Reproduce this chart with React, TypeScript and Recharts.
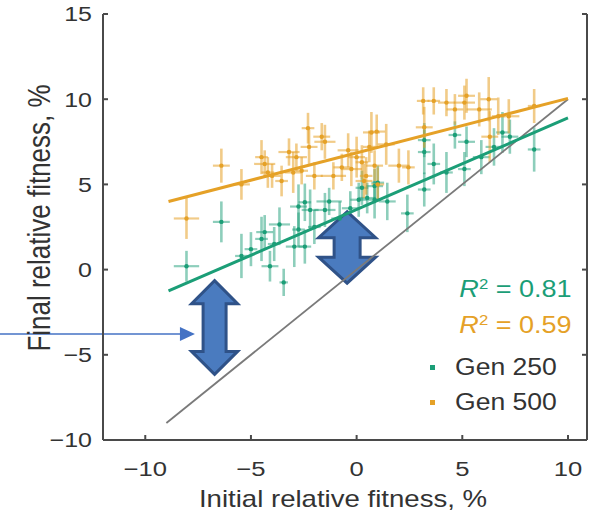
import React from 'react';
import { ComposedChart, Scatter, XAxis, YAxis, ErrorBar, ReferenceLine, Legend } from 'recharts';

const FONT = '"Liberation Sans", Arial, Helvetica, sans-serif';
const GREEN = '#1b9e77';
const ORANGE = '#e5a127';
const GREEN_BAR = 'rgba(27, 158, 119, 0.5)';
const ORANGE_BAR = 'rgba(229, 161, 39, 0.55)';
const AXIS = '#4a4a4a';
const TEXT = '#333333';

const xTicks = [-10, -5, 0, 5, 10];
const yTicks = [-10, -5, 0, 5, 10, 15];

// Gen 250 lines
const gen250X = [-8.05, -6.4, -5.45, -5.0, -4.5, -4.35, -4.1, -3.9, -3.65, -3.45, -2.95, -2.75, -2.75, -2.45, -2.45, -2.2, -2.0, -1.5, -1.3, -0.8, -0.3, 0.1, 0.25, 0.5, 0.85, 0.85, 1.0, 1.45, 2.4, 3.2, 3.2, 3.2, 3.65, 4.25, 4.65, 5.1, 5.2, 5.9, 6.5, 6.9, 7.25, 8.4];
const gen250Y = [0.2, 2.8, 0.8, 1.2, 1.8, 2.2, 0.2, 1.5, 2.65, -0.75, 1.35, 3.7, 2.35, 3.95, 1.35, 3.5, 2.5, 3.5, 4.0, 3.0, 3.6, 4.1, 4.8, 4.2, 4.1, 4.9, 5.1, 4.0, 3.3, 4.7, 6.9, 7.6, 6.2, 5.7, 7.9, 5.9, 7.5, 6.6, 7.2, 8.05, 7.8, 7.05];
const gen250XErr = [0.6, 0.4, 0.3, 0.3, 0.3, 0.4, 0.4, 0.3, 0.5, 0.2, 0.4, 0.4, 0.3, 0.3, 0.3, 0.4, 0.3, 0.5, 0.6, 0.4, 0.4, 0.4, 0.3, 0.4, 0.3, 0.4, 0.3, 0.4, 0.3, 0.3, 0.3, 0.3, 0.3, 0.3, 0.3, 0.3, 0.4, 0.4, 0.4, 0.3, 0.4, 0.3];
const gen250YErr = [0.9, 1.2, 1.3, 1.0, 1.3, 1.0, 0.9, 1.0, 1.0, 0.8, 1.2, 1.3, 1.0, 1.1, 1.0, 1.2, 1.0, 1.0, 0.8, 1.0, 1.0, 1.0, 1.0, 0.9, 1.1, 1.0, 1.0, 1.1, 1.1, 1.0, 1.3, 1.0, 1.2, 1.2, 0.8, 1.0, 0.9, 1.0, 1.1, 1.2, 1.0, 1.3];

// Gen 500 lines
const gen500X = [-8.05, -6.4, -5.45, -4.5, -4.35, -4.2, -4.0, -3.55, -3.2, -3.0, -2.85, -2.6, -2.3, -2.25, -2.0, -1.65, -1.5, -1.1, -0.7, -0.4, -0.25, 0.0, 0.25, 0.35, 0.45, 0.6, 0.7, 0.85, 0.95, 1.0, 1.4, 2.0, 2.45, 3.15, 3.2, 3.65, 4.25, 4.65, 5.1, 5.2, 5.8, 6.25, 6.3, 6.7, 7.2, 8.4];
const gen500Y = [3.0, 6.1, 5.0, 6.6, 6.2, 5.7, 5.5, 5.2, 6.9, 5.7, 6.6, 5.8, 8.3, 7.2, 5.5, 7.8, 7.5, 5.5, 6.0, 7.0, 5.9, 6.6, 6.3, 5.2, 5.5, 7.2, 8.05, 6.1, 8.1, 5.0, 7.35, 6.1, 6.0, 9.9, 8.35, 9.9, 9.8, 9.4, 9.8, 10.2, 9.4, 10.0, 7.8, 9.0, 9.0, 9.6];
const gen500XErr = [0.6, 0.4, 0.4, 0.3, 0.5, 0.3, 0.4, 0.3, 0.5, 0.4, 0.5, 0.3, 0.3, 0.4, 0.4, 0.4, 0.5, 0.6, 0.4, 0.5, 0.5, 0.4, 0.3, 0.4, 0.3, 0.3, 0.4, 0.4, 0.4, 0.3, 0.4, 0.5, 0.3, 0.3, 0.4, 0.3, 0.4, 0.4, 0.5, 0.4, 0.6, 0.4, 0.4, 0.3, 0.5, 0.3];
const gen500YErr = [1.2, 1.0, 0.9, 1.0, 0.8, 0.9, 0.7, 0.9, 0.8, 1.2, 0.8, 0.8, 0.9, 1.0, 0.8, 0.8, 1.0, 0.8, 0.8, 1.0, 1.0, 1.2, 1.0, 1.0, 1.1, 0.9, 1.2, 0.9, 1.0, 1.0, 1.2, 1.0, 1.0, 0.8, 1.2, 0.8, 0.8, 0.9, 1.0, 1.0, 1.0, 1.3, 1.5, 1.1, 1.0, 1.0];

// regression fits and the y = x line
const fit250X = [-8.9, 10];
const fit250Y = [-1.25, 8.9];
const fit500X = [-8.9, 10];
const fit500Y = [4.0, 10.05];
const identityX = [-9, 10];
const identityY = [-9, 10];

// annotation arrows, in data units
const arrowX = [-6.72, -0.45];
const arrowTop = [-0.65, 3.4];
const arrowBottom = [-6.15, -0.8];
const arrowLineY = -3.78;
const arrowLineFrom = -16.9;
const arrowLineTo = -7.65;

const arrowSize = [
  { w: 46, h: 23, s: 23 },
  { w: 57, h: 26, s: 26 },
];

const toPoints = (xs: number[], ys: number[]) => xs.map((x, i) => ({ x, y: ys[i] }));

const gen250 = gen250X.map((x, i) => ({ x, y: gen250Y[i], ex: gen250XErr[i], ey: gen250YErr[i] }));
const gen500 = gen500X.map((x, i) => ({ x, y: gen500Y[i], ex: gen500XErr[i], ey: gen500YErr[i] }));
const fit250 = toPoints(fit250X, fit250Y);
const fit500 = toPoints(fit500X, fit500Y);
const identity = toPoints(identityX, identityY);

const fmt = (v: number) => String(v).replace('-', '\u2212');

const YTick = ({ x, y, payload }: any) => (
  <text
    transform={`translate(${x},${y}) scale(1.22,1)`}
    textAnchor="end"
    dy="0.36em"
    fontSize={20.5}
    fontFamily={FONT}
    fill={TEXT}
  >
    {fmt(payload.value)}
  </text>
);

const XTick = ({ x, y, payload }: any) => (
  <text
    transform={`translate(${x},${y}) scale(1.25,1)`}
    textAnchor="middle"
    dy="0.71em"
    fontSize={20.5}
    fontFamily={FONT}
    fill={TEXT}
  >
    {fmt(payload.value)}
  </text>
);

const XTitle = ({ viewBox }: any) => {
  const cx = viewBox.x + viewBox.width / 2 - 2;
  const by = viewBox.y + viewBox.height - 7;
  return (
    <text transform={`translate(${cx},${by}) scale(1.2,1)`} textAnchor="middle" fontSize={23} fontFamily={FONT} fill={TEXT}>
      Initial relative fitness, %
    </text>
  );
};

const YTitle = ({ viewBox }: any) => {
  const cy = viewBox.y + viewBox.height / 2 - 9;
  return (
    <text transform={`translate(39,${cy}) scale(1.2,1) rotate(-90)`} textAnchor="middle" dy="0.36em" fontSize={26} fontFamily={FONT} fill={TEXT}>
      Final relative fitness, %
    </text>
  );
};

const DoubleArrow = ({ x1, y1, x2, y2, w, h, s }: any) => {
  const cx = (x1 + x2) / 2;
  const top = Math.min(y1, y2);
  const bot = Math.max(y1, y2);
  const pts = [
    [cx, top], [cx + w / 2, top + h], [cx + s / 2, top + h], [cx + s / 2, bot - h], [cx + w / 2, bot - h],
    [cx, bot], [cx - w / 2, bot - h], [cx - s / 2, bot - h], [cx - s / 2, top + h], [cx - w / 2, top + h],
  ];
  return <polygon points={pts.map((p) => p.join(',')).join(' ')} fill="#4a7bbf" stroke="#2f5288" strokeWidth={3} />;
};

const ThinArrow = ({ x1, y1, x2, y2 }: any) => (
  <g>
    <line x1={x1} y1={y1} x2={x2 - 12} y2={y2} stroke="#4472c4" strokeWidth={1.5} />
    <polygon points={`${x2},${y2} ${x2 - 15},${y2 - 7} ${x2 - 15},${y2 + 7}`} fill="#4472c4" />
  </g>
);

const Key = () => {
  const row = { position: 'absolute' as const, height: 36, lineHeight: '36px', whiteSpace: 'nowrap' as const };
  const sup = { fontSize: '0.62em', position: 'relative' as const, top: '-0.55em' };
  return (
    <div style={{ position: 'relative', width: 172, height: 150, fontFamily: FONT, fontSize: 23.5, color: TEXT }}>
      <div style={{ ...row, right: 0, top: 0, color: GREEN, transform: 'scaleX(1.15)', transformOrigin: 'right center' }}>
        <i>R</i><span style={sup}>2</span> = 0.81
      </div>
      <div style={{ ...row, right: 0, top: 36, color: ORANGE, transform: 'scaleX(1.15)', transformOrigin: 'right center' }}>
        <i>R</i><span style={sup}>2</span> = 0.59
      </div>
      <div style={{ position: 'absolute', left: 30, top: 94, width: 5, height: 5, background: GREEN }} />
      <div style={{ ...row, left: 55, top: 78, transform: 'scaleX(1.13)', transformOrigin: 'left center' }}>Gen 250</div>
      <div style={{ position: 'absolute', left: 30, top: 129, width: 5, height: 5, background: ORANGE }} />
      <div style={{ ...row, left: 55, top: 113, transform: 'scaleX(1.13)', transformOrigin: 'left center' }}>Gen 500</div>
    </div>
  );
};

const dot = (color: string) => (props: any) => <circle cx={props.cx} cy={props.cy} r={2.2} fill={color} />;
const none = () => <g />;

export default function App() {
  return (
    <div style={{ position: 'absolute', left: 0, top: 0, width: 594, height: 514, background: '#fff' }}>
      <ComposedChart width={594} height={514} margin={{ top: 14, right: 6, bottom: 0, left: 0 }}>
        <XAxis
          type="number"
          dataKey="x"
          domain={[-12, 10.9]}
          ticks={xTicks}
          allowDataOverflow
          height={74}
          axisLine={{ stroke: AXIS, strokeWidth: 2 }}
          tickLine={{ stroke: AXIS, strokeWidth: 2 }}
          tickSize={-5}
          tickMargin={26}
          tick={<XTick />}
          label={{ value: 'Initial relative fitness, %', content: (p: any) => <XTitle {...p} /> }}
        />
        <YAxis
          type="number"
          dataKey="y"
          domain={[-10, 15]}
          ticks={yTicks}
          allowDataOverflow
          width={103}
          axisLine={{ stroke: AXIS, strokeWidth: 2 }}
          tickLine={{ stroke: AXIS, strokeWidth: 2 }}
          tickSize={-5}
          tickMargin={16}
          tick={<YTick />}
          label={{ value: 'Final relative fitness, %', content: (p: any) => <YTitle {...p} /> }}
        />
        <YAxis
          yAxisId="r"
          orientation="right"
          type="number"
          domain={[-10, 15]}
          ticks={yTicks}
          allowDataOverflow
          width={1}
          axisLine={{ stroke: AXIS, strokeWidth: 2 }}
          tickLine={{ stroke: AXIS, strokeWidth: 2 }}
          tickSize={-5}
          tick={none}
        />
        <Legend layout="vertical" align="center" verticalAlign="middle" wrapperStyle={{ left: 400, top: 271, width: 172 }} content={() => <Key />} />

        <Scatter name="Gen 250" data={gen250} fill={GREEN} shape={dot(GREEN)} isAnimationActive={false}>
          <ErrorBar dataKey="ey" direction="y" width={0} stroke={GREEN_BAR} strokeWidth={2.6} />
          <ErrorBar dataKey="ex" direction="x" width={0} stroke={GREEN_BAR} strokeWidth={2.2} />
        </Scatter>
        <Scatter name="Gen 500" data={gen500} fill={ORANGE} shape={dot(ORANGE)} isAnimationActive={false}>
          <ErrorBar dataKey="ey" direction="y" width={0} stroke={ORANGE_BAR} strokeWidth={2.6} />
          <ErrorBar dataKey="ex" direction="x" width={0} stroke={ORANGE_BAR} strokeWidth={2.2} />
        </Scatter>

        <Scatter data={identity} fill="#7a7a7a" line={{ stroke: '#7a7a7a', strokeWidth: 1.8 }} shape={none} legendType="none" isAnimationActive={false} />
        <Scatter data={fit500} fill={ORANGE} line={{ stroke: ORANGE, strokeWidth: 3 }} shape={none} legendType="none" isAnimationActive={false} />
        <Scatter data={fit250} fill={GREEN} line={{ stroke: GREEN, strokeWidth: 3 }} shape={none} legendType="none" isAnimationActive={false} />

        {arrowX.map((x, i) => (
          <ReferenceLine
            key={i}
            segment={[{ x, y: arrowTop[i] }, { x, y: arrowBottom[i] }]}
            ifOverflow="visible"
            shape={(p: any) => <DoubleArrow {...p} {...arrowSize[i]} />}
          />
        ))}
        <ReferenceLine
          segment={[{ x: arrowLineFrom, y: arrowLineY }, { x: arrowLineTo, y: arrowLineY }]}
          ifOverflow="visible"
          shape={(p: any) => <ThinArrow {...p} />}
        />
      </ComposedChart>
    </div>
  );
}
